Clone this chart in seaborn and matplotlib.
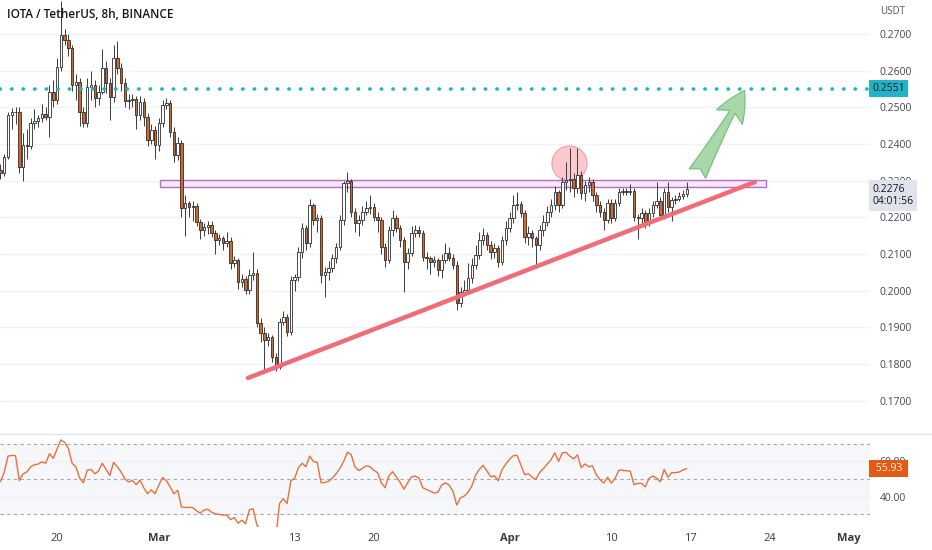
import matplotlib
matplotlib.use('Agg')
import matplotlib.pyplot as plt
import matplotlib.dates as mdates
import matplotlib.transforms as mtransforms
from matplotlib.patches import Rectangle
from matplotlib.lines import Line2D
import numpy as np
import pandas as pd
import seaborn as sns

sns.set_theme(style='white')
plt.rcParams['font.family'] = ['Open Sans', 'DejaVu Sans']

# IOTA/USDT 8h candles
first_open = 0.2329
closes = [
    0.2321, 0.2364, 0.2479, 0.2487, 0.2487, 0.2337, 0.2397, 0.2394, 0.2457, 0.2463,
    0.2471, 0.2482, 0.2474, 0.2542, 0.2520, 0.2610, 0.2697, 0.2684, 0.2662, 0.2561,
    0.2569, 0.2487, 0.2457, 0.2555, 0.2561, 0.2525, 0.2542, 0.2607, 0.2566, 0.2528,
    0.2635, 0.2607, 0.2566, 0.2517, 0.2520, 0.2522, 0.2479, 0.2514, 0.2474, 0.2411,
    0.2438, 0.2397, 0.2457, 0.2506, 0.2512, 0.2433, 0.2370, 0.2403, 0.2225, 0.2239,
    0.2228, 0.2231, 0.2187, 0.2165, 0.2173, 0.2179, 0.2157, 0.2138, 0.2143, 0.2130,
    0.2135, 0.2075, 0.2083, 0.2023, 0.2032, 0.2002, 0.2042, 0.2048, 0.1911, 0.1884,
    0.1865, 0.1873, 0.1819, 0.1791, 0.1914, 0.1928, 0.1887, 0.2029, 0.2037, 0.2105,
    0.2171, 0.2130, 0.2233, 0.2192, 0.2198, 0.2042, 0.2051, 0.2062, 0.2089, 0.2119,
    0.2192, 0.2293, 0.2299, 0.2214, 0.2184, 0.2192, 0.2214, 0.2225, 0.2228, 0.2201,
    0.2192, 0.2119, 0.2083, 0.2165, 0.2198, 0.2171, 0.2138, 0.2078, 0.2102, 0.2157,
    0.2165, 0.2157, 0.2092, 0.2089, 0.2078, 0.2083, 0.2056, 0.2083, 0.2102, 0.2089,
    0.2070, 0.1966, 0.1996, 0.2001, 0.2034, 0.2070, 0.2097, 0.2138, 0.2152, 0.2124,
    0.2105, 0.2116, 0.2078, 0.2138, 0.2171, 0.2198, 0.2233, 0.2236, 0.2212, 0.2146,
    0.2157, 0.2143, 0.2124, 0.2165, 0.2187, 0.2214, 0.2233, 0.2269, 0.2233, 0.2296,
    0.2302, 0.2304, 0.2280, 0.2315, 0.2266, 0.2288, 0.2296, 0.2261, 0.2233, 0.2214,
    0.2192, 0.2239, 0.2198, 0.2239, 0.2269, 0.2272, 0.2269, 0.2272, 0.2201, 0.2198,
    0.2212, 0.2184, 0.2212, 0.2233, 0.2244, 0.2206, 0.2269, 0.2228, 0.2247, 0.2250,
    0.2258, 0.2264, 0.2276,
]
highs = [
    0.2345, 0.2372, 0.2488, 0.2498, 0.2500, 0.2500, 0.2430, 0.2440, 0.2470, 0.2495,
    0.2480, 0.2510, 0.2500, 0.2560, 0.2575, 0.2635, 0.2790, 0.2715, 0.2700, 0.2670,
    0.2590, 0.2580, 0.2500, 0.2580, 0.2600, 0.2575, 0.2560, 0.2660, 0.2625, 0.2580,
    0.2670, 0.2680, 0.2620, 0.2580, 0.2535, 0.2535, 0.2530, 0.2530, 0.2525, 0.2485,
    0.2455, 0.2450, 0.2470, 0.2520, 0.2525, 0.2520, 0.2445, 0.2420, 0.2410, 0.2260,
    0.2245, 0.2245, 0.2240, 0.2195, 0.2185, 0.2190, 0.2190, 0.2165, 0.2155, 0.2150,
    0.2160, 0.2145, 0.2095, 0.2090, 0.2045, 0.2040, 0.2060, 0.2105, 0.2060, 0.1925,
    0.1900, 0.1885, 0.1880, 0.1830, 0.1925, 0.1945, 0.1935, 0.2040, 0.2045, 0.2120,
    0.2185, 0.2180, 0.2250, 0.2240, 0.2210, 0.2205, 0.2065, 0.2080, 0.2100, 0.2130,
    0.2205, 0.2300, 0.2323, 0.2305, 0.2225, 0.2205, 0.2230, 0.2245, 0.2262, 0.2240,
    0.2215, 0.2200, 0.2130, 0.2175, 0.2220, 0.2205, 0.2180, 0.2145, 0.2115, 0.2175,
    0.2180, 0.2175, 0.2165, 0.2105, 0.2095, 0.2095, 0.2090, 0.2100, 0.2130, 0.2120,
    0.2100, 0.2080, 0.2010, 0.2030, 0.2075, 0.2090, 0.2125, 0.2160, 0.2170, 0.2160,
    0.2135, 0.2130, 0.2125, 0.2150, 0.2190, 0.2215, 0.2260, 0.2269, 0.2245, 0.2220,
    0.2175, 0.2165, 0.2150, 0.2180, 0.2205, 0.2230, 0.2250, 0.2285, 0.2275, 0.2310,
    0.2351, 0.2389, 0.2320, 0.2389, 0.2325, 0.2300, 0.2310, 0.2305, 0.2270, 0.2245,
    0.2225, 0.2250, 0.2250, 0.2250, 0.2280, 0.2280, 0.2280, 0.2290, 0.2280, 0.2210,
    0.2225, 0.2220, 0.2225, 0.2245, 0.2296, 0.2255, 0.2280, 0.2296, 0.2255, 0.2262,
    0.2270, 0.2275, 0.2296,
]
lows = [
    0.2305, 0.2312, 0.2358, 0.2440, 0.2455, 0.2320, 0.2300, 0.2360, 0.2385, 0.2440,
    0.2445, 0.2460, 0.2465, 0.2420, 0.2500, 0.2510, 0.2600, 0.2670, 0.2640, 0.2545,
    0.2520, 0.2450, 0.2445, 0.2445, 0.2520, 0.2500, 0.2505, 0.2535, 0.2540, 0.2466,
    0.2515, 0.2590, 0.2545, 0.2500, 0.2495, 0.2500, 0.2440, 0.2465, 0.2450, 0.2395,
    0.2400, 0.2360, 0.2380, 0.2445, 0.2495, 0.2420, 0.2350, 0.2355, 0.2200, 0.2150,
    0.2200, 0.2190, 0.2175, 0.2140, 0.2150, 0.2155, 0.2145, 0.2100, 0.2125, 0.2110,
    0.2120, 0.2060, 0.2065, 0.2005, 0.2010, 0.1990, 0.1990, 0.2030, 0.1900, 0.1860,
    0.1776, 0.1850, 0.1805, 0.1780, 0.1785, 0.1905, 0.1875, 0.1880, 0.2000, 0.2025,
    0.2090, 0.2110, 0.2120, 0.2180, 0.2160, 0.2020, 0.1983, 0.2030, 0.2050, 0.2075,
    0.2110, 0.2180, 0.2270, 0.2200, 0.2160, 0.2150, 0.2180, 0.2205, 0.2210, 0.2190,
    0.2160, 0.2100, 0.2065, 0.2075, 0.2150, 0.2160, 0.2120, 0.1996, 0.2060, 0.2095,
    0.2145, 0.2145, 0.2080, 0.2060, 0.2045, 0.2065, 0.2040, 0.2035, 0.2075, 0.2080,
    0.2060, 0.1947, 0.1955, 0.1985, 0.1995, 0.2020, 0.2060, 0.2085, 0.2125, 0.2110,
    0.2085, 0.2090, 0.2065, 0.2070, 0.2125, 0.2160, 0.2185, 0.2220, 0.2200, 0.2130,
    0.2125, 0.2120, 0.2062, 0.2110, 0.2150, 0.2175, 0.2200, 0.2220, 0.2215, 0.2225,
    0.2275, 0.2270, 0.2255, 0.2265, 0.2250, 0.2245, 0.2270, 0.2245, 0.2215, 0.2200,
    0.2165, 0.2185, 0.2185, 0.2190, 0.2230, 0.2260, 0.2260, 0.2260, 0.2190, 0.2140,
    0.2185, 0.2170, 0.2175, 0.2200, 0.2225, 0.2195, 0.2195, 0.2215, 0.2190, 0.2235,
    0.2245, 0.2250, 0.2255,
]
rsi = [
    48.5, 54.0, 63.0, 63.5, 63.3, 49.0, 53.0, 54.0, 57.0, 58.2,
    58.5, 59.8, 59.0, 64.5, 61.8, 67.0, 72.3, 71.0, 67.5, 59.0,
    57.0, 50.5, 47.8, 55.0, 55.5, 53.0, 54.5, 59.0, 55.5, 52.0,
    59.5, 57.0, 54.0, 50.0, 48.3, 49.2, 46.8, 49.4, 45.0, 41.6,
    43.8, 41.6, 46.5, 50.8, 49.0, 45.5, 41.5, 43.6, 34.0, 33.8,
    33.8, 33.7, 31.8, 30.5, 32.3, 32.7, 31.0, 30.1, 29.8, 29.4,
    29.4, 26.8, 28.0, 24.8, 26.5, 24.4, 32.5, 33.0, 23.7, 21.0,
    19.5, 20.5, 18.0, 16.5, 36.0, 38.8, 36.0, 49.0, 50.3, 56.5,
    59.0, 57.0, 63.1, 60.0, 59.5, 47.9, 48.0, 48.7, 50.5, 53.0,
    56.0, 60.0, 65.3, 64.0, 57.0, 54.8, 56.1, 57.5, 57.0, 55.0,
    53.6, 47.7, 45.0, 51.8, 54.2, 51.2, 48.0, 44.2, 48.0, 51.2,
    51.7, 50.5, 45.0, 44.0, 43.0, 42.0, 42.5, 46.6, 47.8, 46.5,
    43.0, 35.1, 39.2, 40.3, 42.5, 46.0, 52.3, 55.5, 57.8, 54.5,
    51.3, 51.8, 49.0, 55.3, 58.5, 61.3, 63.3, 63.5, 58.0, 52.5,
    53.0, 51.0, 49.8, 53.8, 56.0, 58.5, 61.0, 65.0, 60.0, 65.0,
    65.2, 63.0, 61.5, 63.8, 56.5, 58.6, 57.0, 57.5, 52.5, 49.5,
    47.8, 51.0, 47.6, 50.5, 55.0, 55.0, 54.7, 54.5, 46.8, 47.5,
    47.5, 45.5, 50.4, 51.7, 50.5, 48.5, 55.5, 51.0, 53.6, 53.6,
    54.0, 55.2, 55.93,
]

price_ticks = [0.17, 0.18, 0.19, 0.20, 0.21, 0.22, 0.23, 0.24, 0.25, 0.26, 0.27]
date_ticks = ['2023-02-20', '2023-03-01', '2023-03-13', '2023-03-20', '2023-04-01',
              '2023-04-10', '2023-04-17', '2023-04-24', '2023-05-01']
date_labels = ['20', 'Mar', '13', '20', 'Apr', '10', '17', '24', 'May']

# drawings on the chart
target_price = 0.2551
last_price = 0.2276
zone_start, zone_end = '2023-03-01 02:30', '2023-04-23 16:00'
zone_low, zone_high = 0.22825, 0.23016
trend_times = ['2023-03-08 21:00', '2023-04-22 16:30']
trend_prices = [0.17614, 0.22962]
circle_time, circle_price = '2023-04-06 06:00', 0.2348
arrow_from = ('2023-04-17 11:30', 0.23125)
arrow_to = ('2023-04-21 21:40', 0.25527)

times = pd.date_range('2023-02-15 00:00', periods=len(closes), freq='8h')
opens = [first_open] + closes[:-1]   # each candle opens at the previous close
df = pd.DataFrame({'time': times, 'open': opens, 'close': closes,
                   'high': highs, 'low': lows, 'rsi': rsi})
df['up'] = df['close'] >= df['open']

fig = plt.figure(figsize=(9.32, 5.5), dpi=100)
ax = fig.add_axes([0, 116 / 550, 870 / 932, 434 / 550])
ax_rsi = fig.add_axes([0, 23 / 550, 870 / 932, 93 / 550])

xlim = (pd.Timestamp('2023-02-14 23:00'), pd.Timestamp('2023-05-02 20:40'))

# price pane
for p in price_ticks:
    ax.axhline(p, color='#f0f2f6', lw=1, zorder=0)

ax.scatter([pd.Timestamp(circle_time)], [circle_price], s=640, color='#f8c0c5',
           edgecolor='#f0909a', linewidth=0.8, alpha=0.85, zorder=1)

ax.add_patch(Rectangle((mdates.date2num(pd.Timestamp(zone_start)), zone_low),
                       mdates.date2num(pd.Timestamp(zone_end)) - mdates.date2num(pd.Timestamp(zone_start)),
                       zone_high - zone_low, facecolor='#f6e6f8', edgecolor='#b05cc4',
                       linewidth=1, alpha=0.9, zorder=1.5))

ax.vlines(df['time'], df['low'], df['high'], color='#3a3a3a', lw=0.7, zorder=2)
body = (df['close'] - df['open']).where((df['close'] - df['open']).abs() > 0.00012, 0.00012)
ax.bar(df['time'], body, bottom=df['open'], width=0.22,
       color=np.where(df['up'], 'white', '#d2682b'), edgecolor='#2b2b2b',
       linewidth=0.6, zorder=3)

sns.lineplot(x=pd.to_datetime(trend_times), y=trend_prices, ax=ax, color='#f06c78',
             lw=3.2, solid_capstyle='round', zorder=4)

ax.axhline(target_price, color='#22b3c6', lw=2.6, linestyle=(0, (0.1, 3.1)),
           dash_capstyle='round', zorder=4)

ax.annotate('', xy=(mdates.date2num(pd.Timestamp(arrow_to[0])), arrow_to[1]),
            xytext=(mdates.date2num(pd.Timestamp(arrow_from[0])), arrow_from[1]),
            arrowprops=dict(arrowstyle='fancy,head_length=1.3,head_width=1.25,tail_width=0.8',
                            mutation_scale=17, fc='#a8d8a9', ec='#6fbf73', lw=0.8),
            zorder=5)

ax.set_xlim(*xlim)
ax.set_ylim(0.16086, 0.27928)
ax.yaxis.tick_right()
ax.set_yticks(price_ticks)
ax.set_yticklabels([f'{p:.4f}' for p in price_ticks])
ax.tick_params(axis='y', length=0, pad=7, labelsize=7.5, colors='#434651')
ax.tick_params(axis='x', bottom=False, labelbottom=False)
ax.set_xlabel('')
ax.set_ylabel('')
for s in ax.spines.values():
    s.set_visible(False)

trans = mtransforms.blended_transform_factory(ax.transAxes, ax.transData)
ax.text(1.003, target_price, '0.2551', transform=trans, ha='left', va='center',
        fontsize=7.5, color='#131722', clip_on=False, zorder=6,
        bbox=dict(boxstyle='square,pad=0.3', fc='#22b3c6', ec='none'))
ax.annotate('0.2276\n04:01:56', xy=(1.003, last_price), xycoords=trans,
            xytext=(0, 4), textcoords='offset points', ha='left', va='top',
            fontsize=7.5, color='#131722', linespacing=1.15, annotation_clip=False,
            zorder=6, bbox=dict(boxstyle='square,pad=0.35', fc='#e0e3eb', ec='none'))

# RSI pane
ax_rsi.axhspan(30, 70, color='#f6f7fb', zorder=0)
for lvl in (40, 60):
    ax_rsi.axhline(lvl, color='#eceef3', lw=0.8, zorder=0.5)
for lvl in (30, 50, 70):
    ax_rsi.axhline(lvl, color='#a5a8b0', lw=0.8, dashes=(3, 3), zorder=1)
sns.lineplot(data=df, x='time', y='rsi', ax=ax_rsi, color='#e8703a', lw=1, zorder=2)

ax_rsi.set_xlim(*xlim)
ax_rsi.set_ylim(22.6, 75.7)
ax_rsi.yaxis.tick_right()
ax_rsi.set_yticks([40, 60])
ax_rsi.set_yticklabels(['40.00', '60.00'])
ax_rsi.tick_params(axis='y', length=0, pad=7, labelsize=7.5, colors='#434651')
ax_rsi.set_xticks(pd.to_datetime(date_ticks))
ax_rsi.set_xticklabels(date_labels)
ax_rsi.tick_params(axis='x', length=0, pad=4, labelsize=8, colors='#363a45')
for lab in ax_rsi.get_xticklabels():
    if lab.get_text() in ('Mar', 'Apr', 'May'):
        lab.set_fontweight('bold')
ax_rsi.set_xlabel('')
ax_rsi.set_ylabel('')
for s in ax_rsi.spines.values():
    s.set_visible(False)

trans_r = mtransforms.blended_transform_factory(ax_rsi.transAxes, ax_rsi.transData)
ax_rsi.text(1.003, rsi[-1], f' {rsi[-1]:.2f} ', transform=trans_r, ha='left', va='center',
            fontsize=7.5, color='white', clip_on=False, zorder=6,
            bbox=dict(boxstyle='square,pad=0.3', fc='#e45a12', ec='none'))

# separator between the price and RSI panes, across the full width
fig.add_artist(Line2D([0, 1], [116 / 550, 116 / 550], transform=fig.transFigure,
                      color='#e0e3eb', lw=1))

fig.text(7 / 932, 1 - 14 / 550, 'IOTA / TetherUS, 8h, BINANCE', ha='left', va='center',
         fontsize=8.5, fontweight='semibold', color='#131722')
fig.text(880 / 932, 1 - 12 / 550, 'USDT', ha='left', va='center',
         fontsize=7, color='#50535e')

fig.savefig('out.png', dpi=100)
